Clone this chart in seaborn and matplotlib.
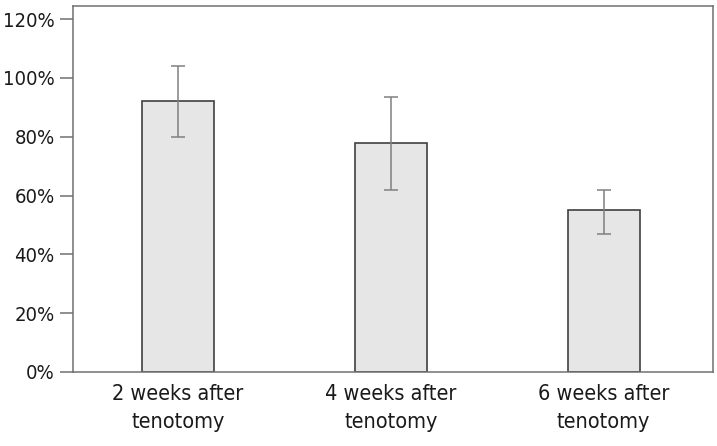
import numpy as np
import pandas as pd
import matplotlib
matplotlib.use("Agg")
import matplotlib.pyplot as plt
import seaborn as sns

# values (percent)
groups = ["2 weeks after\ntenotomy", "4 weeks after\ntenotomy", "6 weeks after\ntenotomy"]
means = [92.0, 78.0, 55.0]
err_low = [80.0, 62.0, 47.0]
err_high = [104.2, 93.6, 61.8]
yticks = [0, 20, 40, 60, 80, 100, 120]

df = pd.DataFrame({"group": groups, "value": means})

sns.set_style("white")
plt.rcParams["font.family"] = ["DejaVu Sans"]
plt.rcParams["font.stretch"] = "condensed"

fig, ax = plt.subplots(figsize=(7.17, 4.46), dpi=100)
fig.subplots_adjust(left=0.102, right=0.994, top=0.986, bottom=0.166)

sns.barplot(data=df, x="group", y="value", color="#e6e6e6", width=0.34,
            edgecolor="#404040", linewidth=1.2, errorbar=None, ax=ax, saturation=1)

# asymmetric error bars drawn on top of the bars
lo = np.array(means) - np.array(err_low)
hi = np.array(err_high) - np.array(means)
ax.errorbar(range(len(groups)), means, yerr=[lo, hi], fmt="none",
            ecolor="#808080", elinewidth=1.1, capsize=5, capthick=1.1)

ax.set_xlim(-0.493, 2.512)
ax.set_ylim(0, 124.4)
ax.set_yticks(yticks)
ax.set_yticklabels([f"{t}%" for t in yticks])
ax.set_xlabel("")
ax.set_ylabel("")

for s in ax.spines.values():
    s.set_visible(True)
    s.set_color("#707070")
    s.set_linewidth(1.1)

ax.tick_params(axis="y", left=True, length=9.4, width=1.1, color="#707070",
               labelcolor="#1a1a1a", labelsize=14.5, pad=4)
ax.tick_params(axis="x", bottom=False, length=0, labelcolor="#1a1a1a",
               labelsize=15.5, pad=9)
for lab in ax.get_xticklabels() + ax.get_yticklabels():
    lab.set_fontstretch("condensed")
for lab in ax.get_xticklabels():
    lab.set_linespacing(1.45)

fig.savefig("out.png", dpi=100)
